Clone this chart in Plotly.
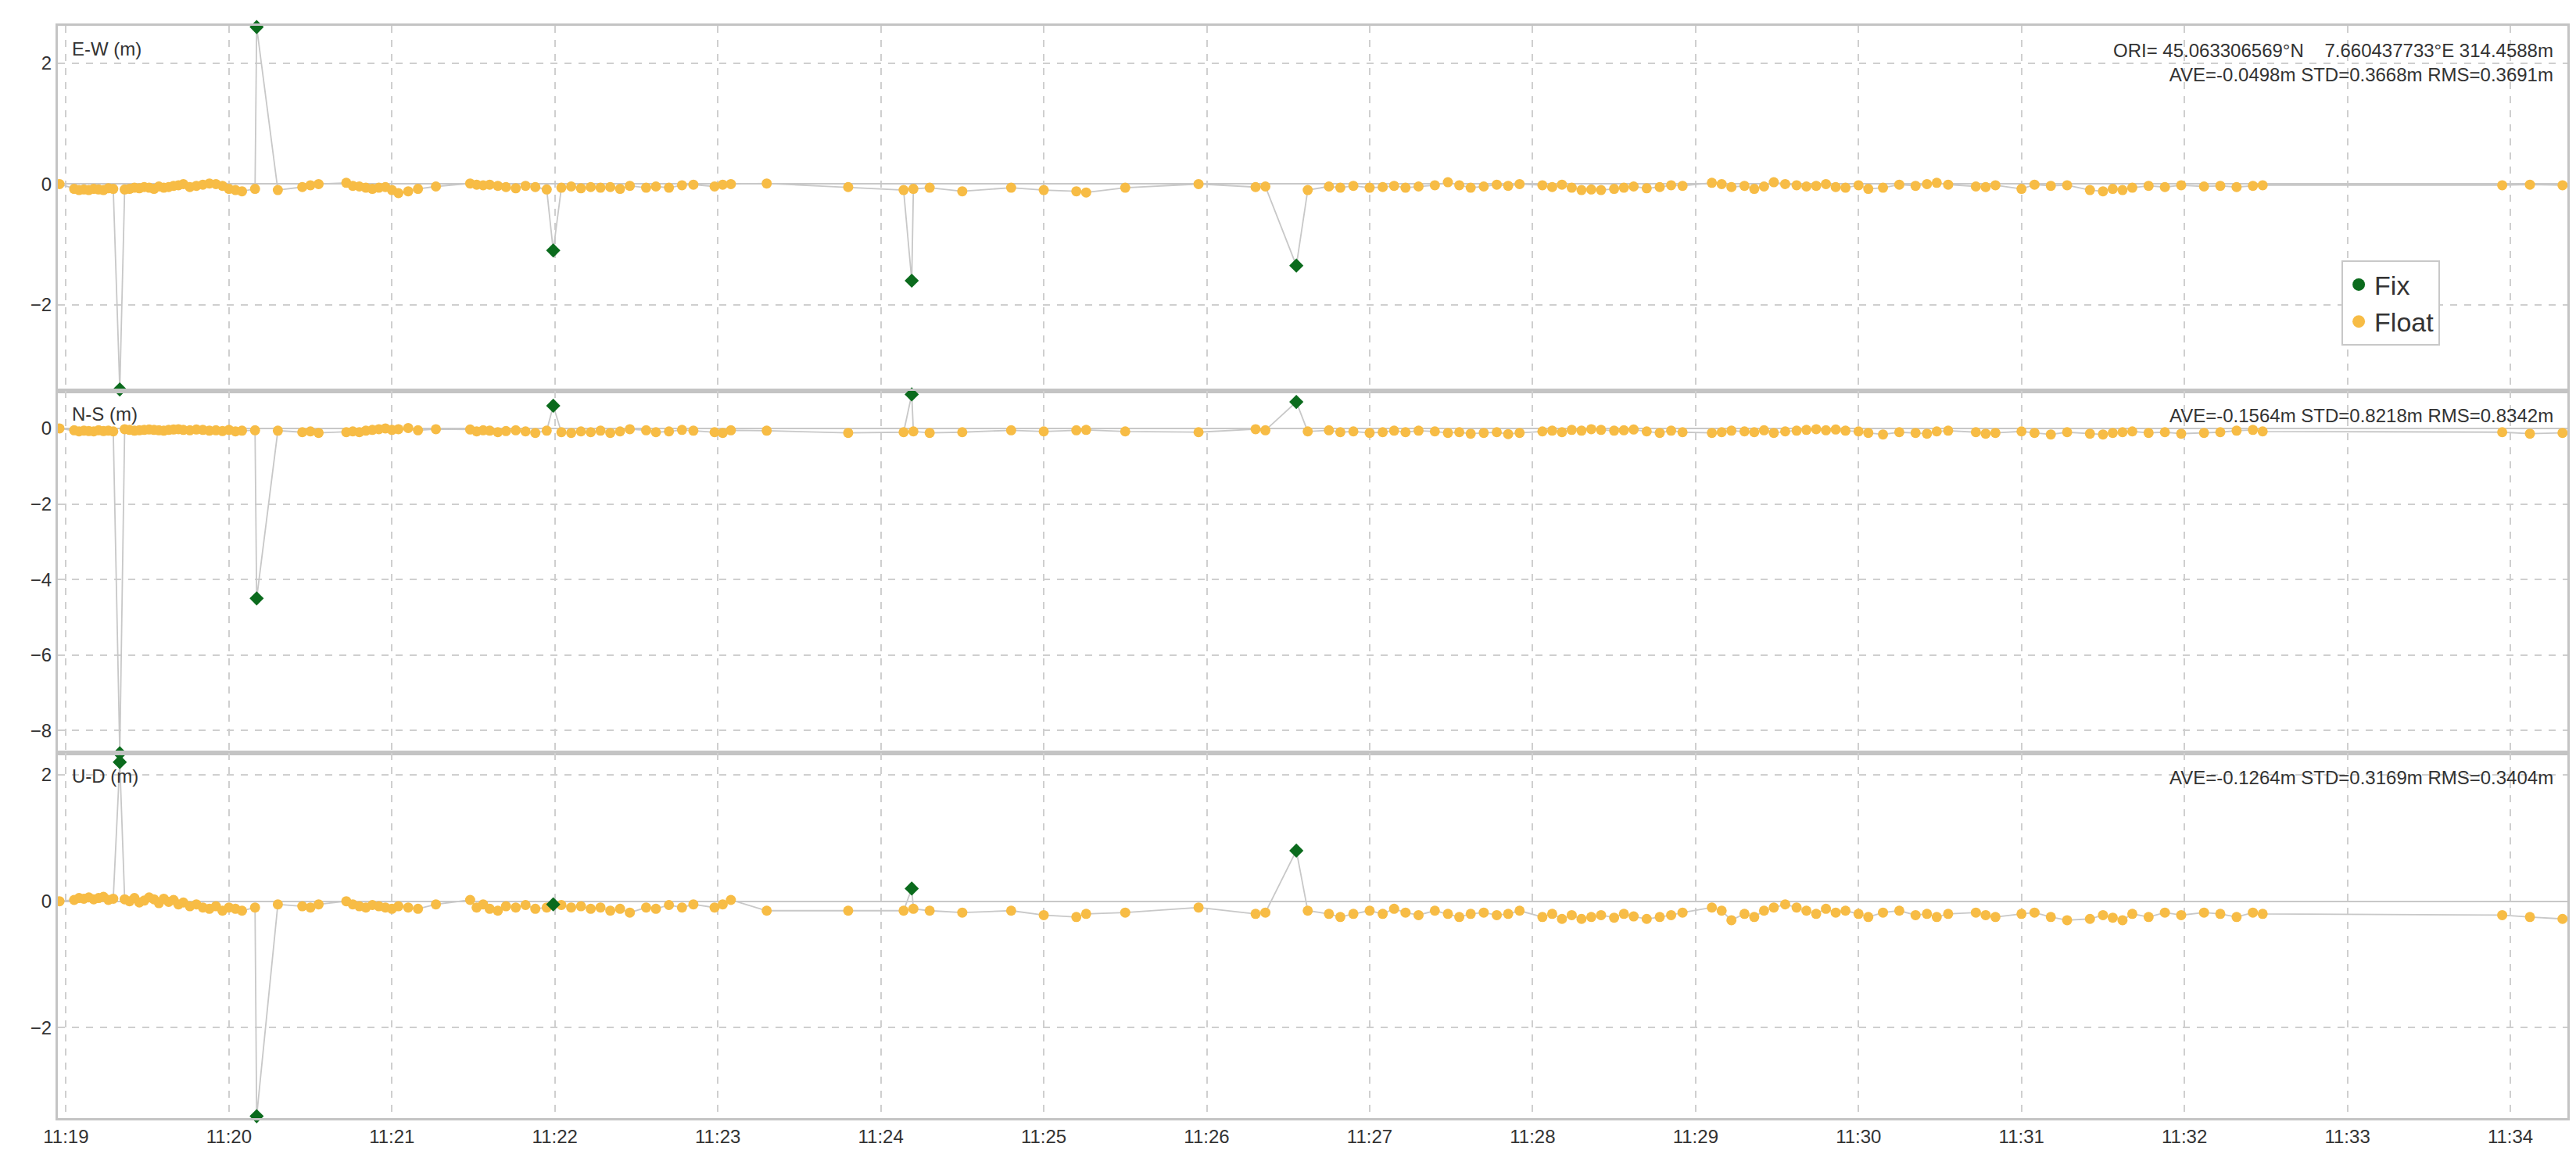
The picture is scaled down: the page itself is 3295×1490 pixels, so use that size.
import plotly.graph_objects as go
import pandas as pd

float_min = [18.96,19.05,19.08,19.11,19.14,19.17,19.20,19.23,19.26,19.29,
19.36,19.39,19.42,19.45,19.48,19.51,19.54,19.57,19.60,19.63,
19.66,19.69,19.72,19.76,19.80,19.84,19.88,19.92,19.96,20.00,
20.04,20.08,20.16,20.30,20.45,20.50,20.55,20.72,20.76,20.80,
20.84,20.88,20.92,20.96,21.00,21.04,21.10,21.16,21.27,21.48,
21.52,21.56,21.60,21.65,21.70,21.76,21.82,21.88,21.95,22.04,
22.10,22.16,22.22,22.28,22.34,22.40,22.46,22.56,22.62,22.70,
22.78,22.85,22.98,23.03,23.08,23.30,23.80,24.14,24.20,24.30,
24.50,24.80,25.00,25.20,25.26,25.50,25.95,26.30,26.36,26.62,
26.75,26.82,26.90,27.00,27.08,27.15,27.22,27.30,27.40,27.48,
27.55,27.62,27.70,27.78,27.85,27.92,28.06,28.12,28.18,28.24,
28.30,28.36,28.42,28.50,28.56,28.62,28.70,28.78,28.85,28.92,
29.10,29.16,29.22,29.30,29.36,29.42,29.48,29.55,29.62,29.68,
29.74,29.80,29.86,29.92,30.00,30.06,30.15,30.25,30.35,30.42,
30.48,30.55,30.72,30.78,30.84,31.00,31.08,31.18,31.28,31.42,
31.50,31.56,31.62,31.68,31.78,31.88,31.98,32.12,32.22,32.32,
32.42,32.48,33.95,34.12,34.32]

float_ew = [0,-0.08,-0.1,-0.09,-0.1,-0.08,-0.09,-0.1,-0.07,-0.08,
-0.09,-0.08,-0.06,-0.07,-0.05,-0.06,-0.08,-0.04,-0.06,-0.05,
-0.03,-0.02,0.0,-0.05,-0.03,-0.01,0.01,0.0,-0.03,-0.08,
-0.1,-0.12,-0.08,-0.1,-0.05,-0.02,0.0,0.02,-0.03,-0.04,
-0.06,-0.08,-0.06,-0.05,-0.1,-0.15,-0.12,-0.08,-0.04,0.01,
-0.01,-0.02,-0.01,-0.03,-0.05,-0.07,-0.03,-0.05,-0.09,-0.06,
-0.04,-0.07,-0.05,-0.06,-0.05,-0.08,-0.03,-0.06,-0.04,-0.06,
-0.02,-0.01,-0.04,-0.01,0.0,0.01,-0.05,-0.1,-0.08,-0.06,
-0.12,-0.06,-0.1,-0.12,-0.14,-0.06,0.0,-0.05,-0.04,-0.1,
-0.04,-0.06,-0.03,-0.06,-0.05,-0.03,-0.06,-0.04,-0.02,0.03,
-0.02,-0.06,-0.04,-0.01,-0.03,0.0,-0.02,-0.05,-0.01,-0.06,
-0.1,-0.09,-0.1,-0.08,-0.06,-0.04,-0.07,-0.05,-0.02,-0.03,
0.02,0.0,-0.05,-0.03,-0.08,-0.04,0.03,0.0,-0.02,-0.04,
-0.03,0.0,-0.05,-0.06,-0.02,-0.08,-0.06,-0.01,-0.03,0.0,
0.02,-0.01,-0.04,-0.05,-0.02,-0.08,-0.01,-0.03,-0.02,-0.1,
-0.12,-0.08,-0.1,-0.06,-0.03,-0.05,-0.02,-0.04,-0.03,-0.05,
-0.03,-0.02,-0.02,-0.01,-0.02]

float_ns = [0,-0.05,-0.08,-0.06,-0.07,-0.08,-0.05,-0.07,-0.06,-0.08,
-0.02,-0.04,-0.06,-0.05,-0.04,-0.03,-0.04,-0.05,-0.06,-0.04,
-0.03,-0.02,-0.04,-0.05,-0.03,-0.04,-0.06,-0.05,-0.07,-0.04,
-0.08,-0.06,-0.05,-0.06,-0.1,-0.08,-0.12,-0.1,-0.08,-0.1,
-0.06,-0.04,-0.02,0.0,-0.04,-0.02,0.01,-0.05,-0.02,-0.03,
-0.08,-0.05,-0.06,-0.1,-0.07,-0.05,-0.08,-0.12,-0.06,-0.1,
-0.12,-0.08,-0.1,-0.06,-0.12,-0.08,-0.02,-0.05,-0.1,-0.08,
-0.04,-0.06,-0.1,-0.12,-0.05,-0.06,-0.12,-0.1,-0.08,-0.12,
-0.1,-0.05,-0.08,-0.05,-0.04,-0.08,-0.1,-0.02,-0.05,-0.08,
-0.05,-0.1,-0.08,-0.12,-0.1,-0.06,-0.1,-0.06,-0.08,-0.12,
-0.1,-0.14,-0.12,-0.1,-0.15,-0.12,-0.08,-0.06,-0.1,-0.04,
-0.06,-0.02,-0.04,-0.06,-0.05,-0.03,-0.08,-0.12,-0.06,-0.1,
-0.12,-0.1,-0.06,-0.08,-0.1,-0.05,-0.12,-0.08,-0.06,-0.04,
-0.02,-0.05,-0.03,-0.06,-0.08,-0.12,-0.16,-0.1,-0.12,-0.14,
-0.08,-0.06,-0.1,-0.14,-0.12,-0.08,-0.12,-0.16,-0.1,-0.14,
-0.16,-0.12,-0.1,-0.08,-0.12,-0.1,-0.14,-0.12,-0.1,-0.06,
-0.04,-0.08,-0.1,-0.14,-0.12]

float_ud = [0,0.02,0.05,0.04,0.06,0.03,0.05,0.07,0.02,0.04,
0.03,0.0,0.05,-0.02,0.01,0.06,0.03,-0.03,0.04,-0.01,
0.02,-0.05,-0.02,-0.08,-0.05,-0.1,-0.12,-0.08,-0.15,-0.1,
-0.12,-0.15,-0.1,-0.05,-0.08,-0.1,-0.05,0.0,-0.05,-0.08,
-0.1,-0.06,-0.08,-0.1,-0.12,-0.08,-0.1,-0.12,-0.05,0.02,
-0.1,-0.05,-0.12,-0.15,-0.08,-0.1,-0.06,-0.12,-0.1,-0.06,
-0.1,-0.08,-0.12,-0.1,-0.15,-0.12,-0.18,-0.1,-0.12,-0.06,
-0.1,-0.05,-0.1,-0.05,0.02,-0.15,-0.15,-0.15,-0.12,-0.15,
-0.18,-0.15,-0.22,-0.25,-0.2,-0.18,-0.1,-0.2,-0.18,-0.15,
-0.2,-0.25,-0.2,-0.15,-0.2,-0.12,-0.18,-0.22,-0.15,-0.2,
-0.25,-0.2,-0.18,-0.22,-0.2,-0.15,-0.25,-0.2,-0.28,-0.22,
-0.28,-0.25,-0.22,-0.26,-0.2,-0.24,-0.28,-0.25,-0.22,-0.18,
-0.1,-0.15,-0.3,-0.2,-0.25,-0.15,-0.1,-0.05,-0.1,-0.15,
-0.2,-0.12,-0.18,-0.15,-0.2,-0.25,-0.18,-0.15,-0.22,-0.2,
-0.25,-0.2,-0.18,-0.22,-0.25,-0.2,-0.18,-0.25,-0.3,-0.28,
-0.22,-0.26,-0.3,-0.2,-0.25,-0.18,-0.22,-0.18,-0.2,-0.25,
-0.18,-0.2,-0.22,-0.25,-0.28]

fix_min = [19.33, 20.17, 21.99, 24.19, 26.55]
fix_ew = [-3.4, 2.6, -1.1, -1.6, -1.35]
fix_ns = [-8.6, -4.5, 0.6, 0.9, 0.7]
fix_ud = [2.2, -3.4, -0.05, 0.2, 0.8]

panel_labels = ["E-W (m)", "N-S (m)", "U-D (m)"]
stats = ["ORI= 45.063306569°N    7.660437733°E 314.4588m<br>AVE=-0.0498m STD=0.3668m RMS=0.3691m",
         "AVE=-0.1564m STD=0.8218m RMS=0.8342m",
         "AVE=-0.1264m STD=0.3169m RMS=0.3404m"]
x_ticks = ["11:%02d" % m for m in range(19, 35)]

base = pd.Timestamp("2024-01-01 11:00:00")
def tt(ms):
    return [base + pd.Timedelta(seconds=m * 60) for m in ms]

FLOAT_C = "#f7bc45"
FIX_C = "#0b6b1d"
LINE_C = "#c8c8c8"
FONT = dict(size=24, color="#333", family="Liberation Sans Narrow, Liberation Sans")

fig = go.Figure()
domains = [[0.666, 1.0], [0.334, 0.666], [0.0, 0.334]]
ranges = [[-3.42, 2.62], [-8.6, 1.0], [-3.43, 2.34]]
tickv = [[-2, 0, 2], [-8, -6, -4, -2, 0], [-2, 0, 2]]
series = [(float_ew, fix_ew), (float_ns, fix_ns), (float_ud, fix_ud)]

for i, (fv, xv) in enumerate(series):
    ax = "" if i == 0 else str(i + 1)
    pts = sorted(list(zip(float_min, fv)) + list(zip(fix_min, xv)), key=lambda p: p[0])
    fig.add_trace(go.Scatter(x=tt([p[0] for p in pts]), y=[p[1] for p in pts], mode="lines",
                             line=dict(color=LINE_C, width=1.8), showlegend=False,
                             xaxis="x" + ax, yaxis="y" + ax))
    fig.add_trace(go.Scatter(x=tt(float_min), y=fv, mode="markers", name="Float",
                             marker=dict(color=FLOAT_C, size=13, symbol="circle"),
                             showlegend=False, xaxis="x" + ax, yaxis="y" + ax))
    fig.add_trace(go.Scatter(x=tt(fix_min), y=xv, mode="markers", name="Fix",
                             marker=dict(color=FIX_C, size=14, symbol="diamond"),
                             showlegend=False, xaxis="x" + ax, yaxis="y" + ax, cliponaxis=False))
    fig.add_annotation(text=panel_labels[i], x=0.005, y=1, xref="x%s domain" % ax, yref="y%s domain" % ax,
                       xanchor="left", yanchor="top", yshift=-14, showarrow=False, font=FONT)
    fig.add_annotation(text=stats[i], x=0.995, y=1, xref="x%s domain" % ax, yref="y%s domain" % ax,
                       xanchor="right", yanchor="top", align="right", yshift=-16, showarrow=False, font=FONT)
    xa = dict(domain=[0, 1], range=[base + pd.Timedelta(seconds=18.95 * 60), base + pd.Timedelta(seconds=34.35 * 60)],
              tickvals=tt(range(19, 35)), ticktext=x_ticks if i == 2 else [""] * 16,
              showgrid=True, gridcolor="#cfcfcf", griddash="dash", gridwidth=1.5,
              showline=True, linecolor="#c4c4c4", linewidth=3, mirror=True, zeroline=False,
              tickfont=FONT, ticks="")
    if i > 0:
        xa["matches"] = "x"
    ya = dict(domain=domains[i], range=ranges[i], tickvals=tickv[i],
              showgrid=True, gridcolor="#cfcfcf", griddash="dash", gridwidth=1.5,
              showline=True, linecolor="#c4c4c4", linewidth=3, mirror=True,
              zeroline=True, zerolinecolor="#c8c8c8", zerolinewidth=2,
              tickfont=FONT, ticks="")
    if i > 0:
        xa["anchor"] = "y" + ax
        ya["anchor"] = "x" + ax
    fig.update_layout(**{"xaxis" + ax: xa, "yaxis" + ax: ya})

fig.add_trace(go.Scatter(x=[None], y=[None], mode="markers", name="Fix",
                         marker=dict(color=FIX_C, size=16, symbol="circle")))
fig.add_trace(go.Scatter(x=[None], y=[None], mode="markers", name="Float",
                         marker=dict(color=FLOAT_C, size=16, symbol="circle")))

fig.update_layout(width=3295, height=1490, plot_bgcolor="white", paper_bgcolor="white",
                  margin=dict(l=66, r=19, t=25, b=68),
                  legend=dict(x=0.91, y=0.785, xanchor="left", yanchor="top",
                              bordercolor="#c8c8c8", borderwidth=2, bgcolor="white",
                              font=dict(size=34, color="#333", family="Liberation Sans Narrow, Liberation Sans")))
fig.write_html("out.html")
